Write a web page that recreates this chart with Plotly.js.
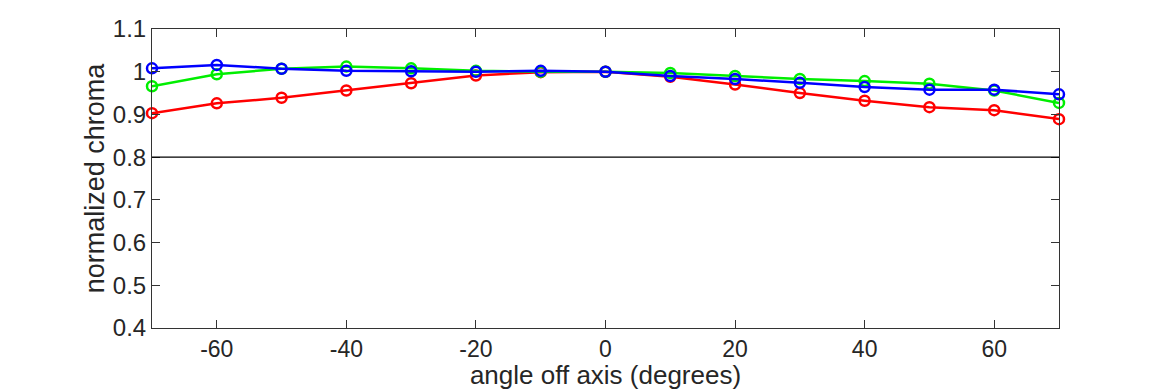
<!DOCTYPE html>
<html>
<head>
<meta charset="utf-8">
<script src="https://cdn.plot.ly/plotly-3.0.1.min.js"></script>
<style>html,body{margin:0;padding:0;background:#fff;}#chart{width:1170px;height:390px;}</style>
</head>
<body>
<div id="chart"></div>
<script>
const angles = [-70, -60, -50, -40, -30, -20, -10, 0, 10, 20, 30, 40, 50, 60, 70];
const redValues   = [0.903, 0.926, 0.939, 0.956, 0.973, 0.991, 0.999, 1.000, 0.988, 0.970, 0.950, 0.932, 0.917, 0.910, 0.889];
const greenValues = [0.966, 0.994, 1.007, 1.012, 1.008, 1.002, 1.000, 1.000, 0.997, 0.990, 0.983, 0.978, 0.972, 0.956, 0.927];
const blueValues  = [1.008, 1.016, 1.007, 1.002, 1.001, 1.000, 1.002, 1.000, 0.990, 0.983, 0.974, 0.964, 0.958, 0.958, 0.947];
const xTicks = [-60, -40, -20, 0, 20, 40, 60];
const xTickText = ['-60', '-40', '-20', '0', '20', '40', '60'];
const yTicks = [0.4, 0.5, 0.6, 0.7, 0.8, 0.9, 1, 1.1];
const yTickText = ['0.4', '0.5', '0.6', '0.7', '0.8', '0.9', '1', '1.1'];
const refLevel = 0.8;

function series(y, color) {
  return {
    x: angles, y: y, type: 'scatter', mode: 'lines+markers',
    line: {color: color, width: 2.5},
    marker: {symbol: 'circle-open', size: 10, color: color, line: {width: 2.5, color: color}},
    showlegend: false, cliponaxis: false
  };
}

const fam = 'Liberation Sans, Arial, sans-serif';
const txt = '#262626';
const layout = {
  width: 1170, height: 390,
  margin: {l: 152, r: 111, t: 29, b: 62},
  paper_bgcolor: '#fff', plot_bgcolor: '#fff',
  font: {family: fam, color: txt},
  xaxis: {
    range: [-70, 70], tickvals: xTicks, ticktext: xTickText, ticks: 'inside', ticklen: 8, tickcolor: '#333',
    showline: true, linecolor: '#333', linewidth: 1, mirror: 'ticks', showgrid: false, zeroline: false,
    tickfont: {size: 23, family: fam, color: txt},
    title: {text: 'angle off axis (degrees)', font: {size: 26, family: fam, color: txt}, standoff: 6}
  },
  yaxis: {
    range: [0.4, 1.1], tickvals: yTicks, ticktext: yTickText, ticks: 'inside', ticklen: 8, tickcolor: '#333',
    showline: true, linecolor: '#333', linewidth: 1, mirror: 'ticks', showgrid: false, zeroline: false,
    tickfont: {size: 24, family: fam, color: txt},
    title: {text: 'normalized chroma', font: {size: 27, family: fam, color: txt}, standoff: 0}
  },
  shapes: [{type: 'line', xref: 'paper', x0: 0, x1: 1, yref: 'y', y0: refLevel, y1: refLevel, line: {color: '#000', width: 1.2}}]
};

Plotly.newPlot('chart', [
  series(redValues, '#ff0000'),
  series(greenValues, '#00ee00'),
  series(blueValues, '#0000ff')
], layout, {displayModeBar: false, staticPlot: true});
</script>
</body>
</html>
